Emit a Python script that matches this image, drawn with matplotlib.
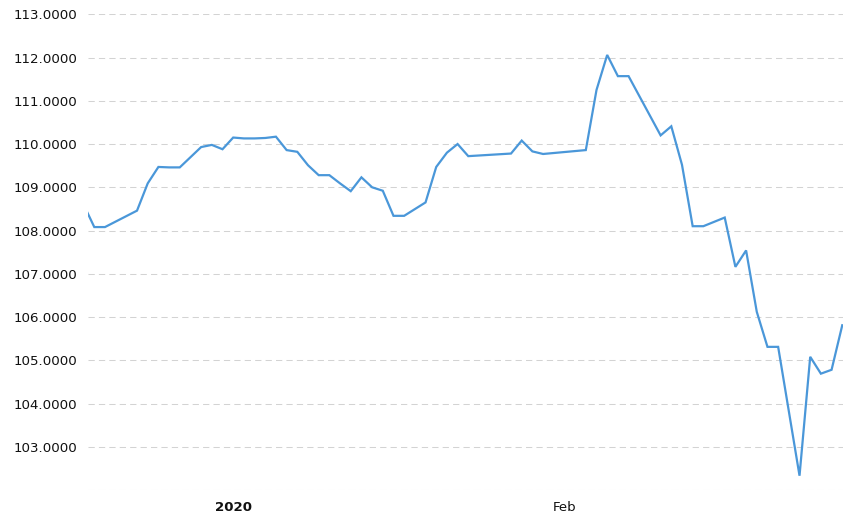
import matplotlib
matplotlib.use("Agg")
import matplotlib.pyplot as plt
import matplotlib.dates as mdates
import numpy as np
import pandas as pd

dates = ["2019-12-18", "2019-12-19", "2019-12-20", "2019-12-23", "2019-12-24",
         "2019-12-25", "2019-12-26", "2019-12-27", "2019-12-29", "2019-12-30",
         "2019-12-31", "2020-01-01", "2020-01-02", "2020-01-03", "2020-01-04",
         "2020-01-05", "2020-01-06", "2020-01-07", "2020-01-08", "2020-01-09",
         "2020-01-10", "2020-01-11", "2020-01-12", "2020-01-13", "2020-01-14",
         "2020-01-15", "2020-01-16", "2020-01-17", "2020-01-19", "2020-01-20",
         "2020-01-21", "2020-01-22", "2020-01-23", "2020-01-27", "2020-01-28",
         "2020-01-29", "2020-01-30", "2020-02-03", "2020-02-04", "2020-02-05",
         "2020-02-06", "2020-02-07", "2020-02-10", "2020-02-11", "2020-02-12",
         "2020-02-13", "2020-02-14", "2020-02-16", "2020-02-17", "2020-02-18",
         "2020-02-19", "2020-02-20", "2020-02-21", "2020-02-23", "2020-02-24",
         "2020-02-25", "2020-02-26", "2020-02-27"]
values = [108.60, 108.08, 108.08, 108.46, 109.09,
          109.47, 109.46, 109.46, 109.93, 109.98,
          109.88, 110.15, 110.13, 110.13, 110.14,
          110.17, 109.86, 109.82, 109.51, 109.28,
          109.28, 109.09, 108.91, 109.23, 109.00,
          108.92, 108.34, 108.34, 108.65, 109.47,
          109.80, 110.00, 109.72, 109.78, 110.08,
          109.83, 109.77, 109.86, 111.25, 112.06,
          111.57, 111.57, 110.20, 110.41, 109.52,
          108.10, 108.10, 108.30, 107.16, 107.54,
          106.12, 105.31, 105.31, 102.33, 105.08,
          104.69, 104.78, 105.81]

y_ticks = list(range(102, 114))
y_labels = ["" if t == 102 else f"{t:.4f}" for t in y_ticks]
x_tick_dates = ["2020-01-01", "2020-02-01"]
x_tick_labels = ["2020", "Feb"]

x = pd.to_datetime(dates)

fig = plt.figure(figsize=(8.56, 5.17), dpi=100)
W, H = 856, 517
left_px, right_px, top_px, bottom_px = 88.3, 842.8, 14.3, 490
ax = fig.add_axes([left_px / W, 1 - bottom_px / H,
                   (right_px - left_px) / W, (bottom_px - top_px) / H])

ax.plot(x, values, color="#4a97d9", linewidth=1.6, solid_joinstyle="miter")

x0 = mdates.date2num(pd.Timestamp("2019-12-19")) - 0.56
x1 = mdates.date2num(pd.Timestamp("2020-02-27")) + 0.05
ax.set_xlim(x0, x1)
ax.set_ylim(102, 113)

ax.set_yticks(y_ticks)
ax.set_yticklabels(y_labels)
ax.set_xticks(pd.to_datetime(x_tick_dates))
ax.set_xticklabels(x_tick_labels)
for lbl in ax.get_xticklabels():
    if lbl.get_text() == "2020":
        lbl.set_fontweight("bold")

ax.tick_params(axis="y", length=0, pad=8, labelsize=9.6, labelcolor="#111111")
ax.tick_params(axis="x", length=0, pad=8, labelsize=9.6, labelcolor="#111111")

ax.yaxis.grid(True, color="#d3d3d3", linewidth=0.75, linestyle=(0, (6, 4)))
ax.xaxis.grid(False)
for s in ax.spines.values():
    s.set_visible(False)
ax.set_axisbelow(True)

fig.savefig("out.png", dpi=100)
